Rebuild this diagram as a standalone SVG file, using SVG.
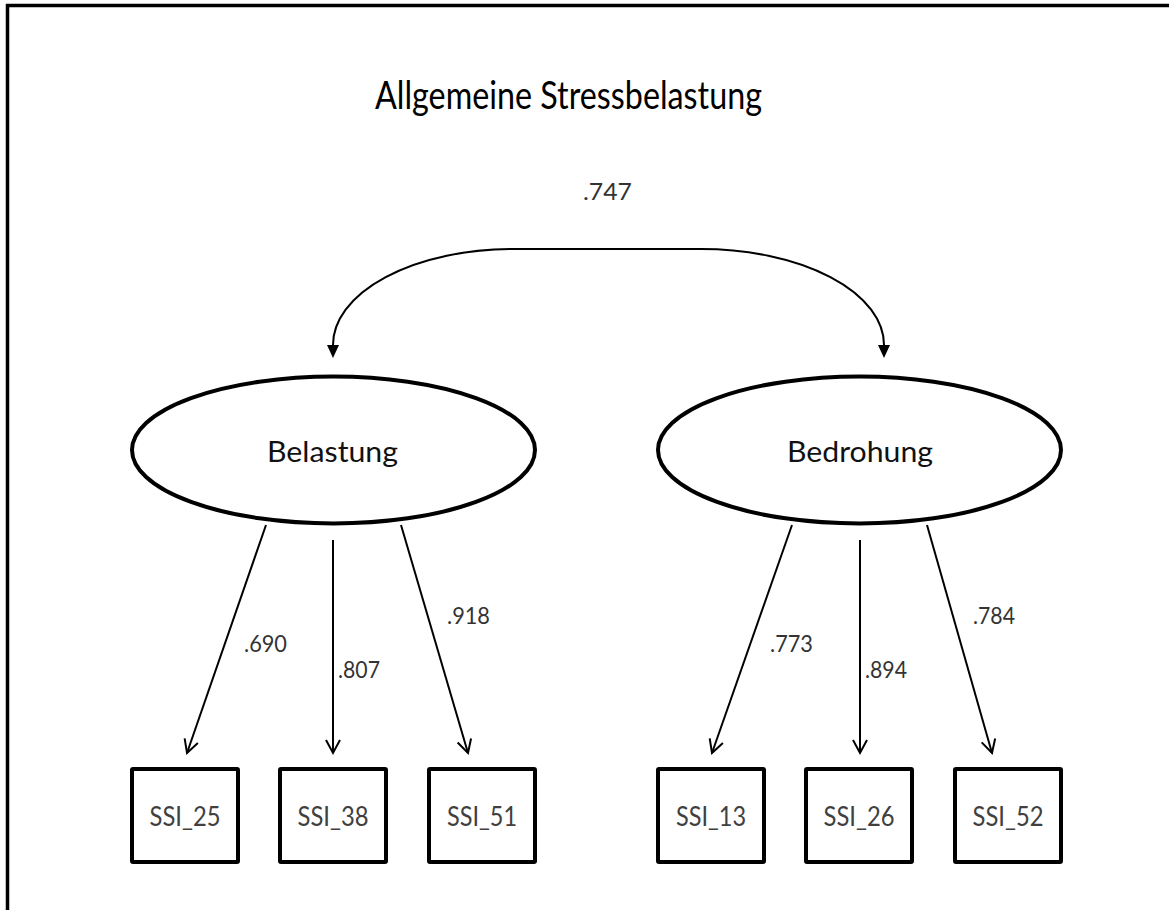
<svg xmlns="http://www.w3.org/2000/svg" width="1169" height="910" viewBox="0 0 1169 910">
  <style>
    text { font-family: "Lato", "Open Sans", "Liberation Sans", sans-serif; }
    .title { font-size: 38px; fill: #000; }
    .latent-shape { fill: #fff; stroke: #000; stroke-width: 4; }
    .latent-label { font-size: 29px; fill: #111; text-anchor: middle; }
    .item-shape { fill: #fff; stroke: #000; stroke-width: 4; }
    .item-label { font-size: 26px; fill: #404040; text-anchor: middle; }
    .loading { fill: none; stroke: #000; stroke-width: 2; marker-end: url(#open-arrow); }
    .covariance { fill: none; stroke: #000; stroke-width: 2; marker-start: url(#solid-arrow); marker-end: url(#solid-arrow); }
    .coef { font-size: 24px; fill: #333; }
  </style>
  <defs>
    <marker id="open-arrow" markerUnits="userSpaceOnUse" viewBox="-14 -8 16 16" refX="0" refY="0" markerWidth="16" markerHeight="16" orient="auto" overflow="visible">
      <path d="M -13 -7 L 0 0 L -13 7" fill="none" stroke="#000" stroke-width="2" stroke-linejoin="miter"/>
    </marker>
    <marker id="solid-arrow" markerUnits="userSpaceOnUse" viewBox="0 -7 14 14" refX="0" refY="0" markerWidth="14" markerHeight="14" orient="auto-start-reverse" overflow="visible">
      <path d="M 0 -6 L 13 0 L 0 6 Z" fill="#000"/>
    </marker>
  </defs>

  <rect width="1169" height="910" fill="#fff"/>
  <!-- outer frame, open to the right and bottom -->
  <rect x="7.5" y="5.5" width="1200" height="1000" fill="none" stroke="#000" stroke-width="3.5"/>

  <text class="title" x="375" y="109" textLength="387" lengthAdjust="spacingAndGlyphs">Allgemeine Stressbelastung</text>

  <g id="connectors">
    <path id="cov-belastung-bedrohung" class="covariance" d="M 333 345 A 180 96 0 0 1 513 249 L 701 249 A 183 96 0 0 1 884 345"/>
    <line id="belastung-ssi25" class="loading" x1="266" y1="525" x2="187" y2="753"/>
    <line id="belastung-ssi38" class="loading" x1="333" y1="540" x2="333" y2="753"/>
    <line id="belastung-ssi51" class="loading" x1="401" y1="525" x2="468" y2="753"/>
    <line id="bedrohung-ssi13" class="loading" x1="792" y1="525" x2="712" y2="753"/>
    <line id="bedrohung-ssi26" class="loading" x1="860" y1="540" x2="860" y2="753"/>
    <line id="bedrohung-ssi52" class="loading" x1="927" y1="525" x2="992" y2="753"/>
    <text class="coef" x="583" y="200" textLength="49" lengthAdjust="spacingAndGlyphs">.747</text>
    <text class="coef" x="244" y="652" textLength="43" lengthAdjust="spacingAndGlyphs">.690</text>
    <text class="coef" x="338" y="678" textLength="42" lengthAdjust="spacingAndGlyphs">.807</text>
    <text class="coef" x="447" y="624" textLength="43" lengthAdjust="spacingAndGlyphs">.918</text>
    <text class="coef" x="770" y="652" textLength="43" lengthAdjust="spacingAndGlyphs">.773</text>
    <text class="coef" x="865" y="678" textLength="42" lengthAdjust="spacingAndGlyphs">.894</text>
    <text class="coef" x="973" y="624" textLength="42" lengthAdjust="spacingAndGlyphs">.784</text>
  </g>

  <g id="latent-belastung">
    <ellipse class="latent-shape" cx="333.5" cy="450" rx="201.5" ry="73.5"/>
    <text class="latent-label" x="332.5" y="462" textLength="131" lengthAdjust="spacingAndGlyphs">Belastung</text>
  </g>
  <g id="latent-bedrohung">
    <ellipse class="latent-shape" cx="859.5" cy="450" rx="201.5" ry="73.5"/>
    <text class="latent-label" x="860" y="462" textLength="146" lengthAdjust="spacingAndGlyphs">Bedrohung</text>
  </g>

  <g id="item-ssi25">
    <rect class="item-shape" x="132" y="769" width="106" height="93" rx="1"/>
    <text class="item-label" x="185" y="826" textLength="71" lengthAdjust="spacingAndGlyphs">SSI_25</text>
  </g>
  <g id="item-ssi38">
    <rect class="item-shape" x="280" y="769" width="106" height="93" rx="1"/>
    <text class="item-label" x="333" y="826" textLength="71" lengthAdjust="spacingAndGlyphs">SSI_38</text>
  </g>
  <g id="item-ssi51">
    <rect class="item-shape" x="429" y="769" width="106" height="93" rx="1"/>
    <text class="item-label" x="482" y="826" textLength="70" lengthAdjust="spacingAndGlyphs">SSI_51</text>
  </g>
  <g id="item-ssi13">
    <rect class="item-shape" x="658" y="769" width="106" height="93" rx="1"/>
    <text class="item-label" x="711" y="826" textLength="70" lengthAdjust="spacingAndGlyphs">SSI_13</text>
  </g>
  <g id="item-ssi26">
    <rect class="item-shape" x="806" y="769" width="106" height="93" rx="1"/>
    <text class="item-label" x="859" y="826" textLength="71" lengthAdjust="spacingAndGlyphs">SSI_26</text>
  </g>
  <g id="item-ssi52">
    <rect class="item-shape" x="955" y="769" width="106" height="93" rx="1"/>
    <text class="item-label" x="1008" y="826" textLength="71" lengthAdjust="spacingAndGlyphs">SSI_52</text>
  </g>
</svg>
